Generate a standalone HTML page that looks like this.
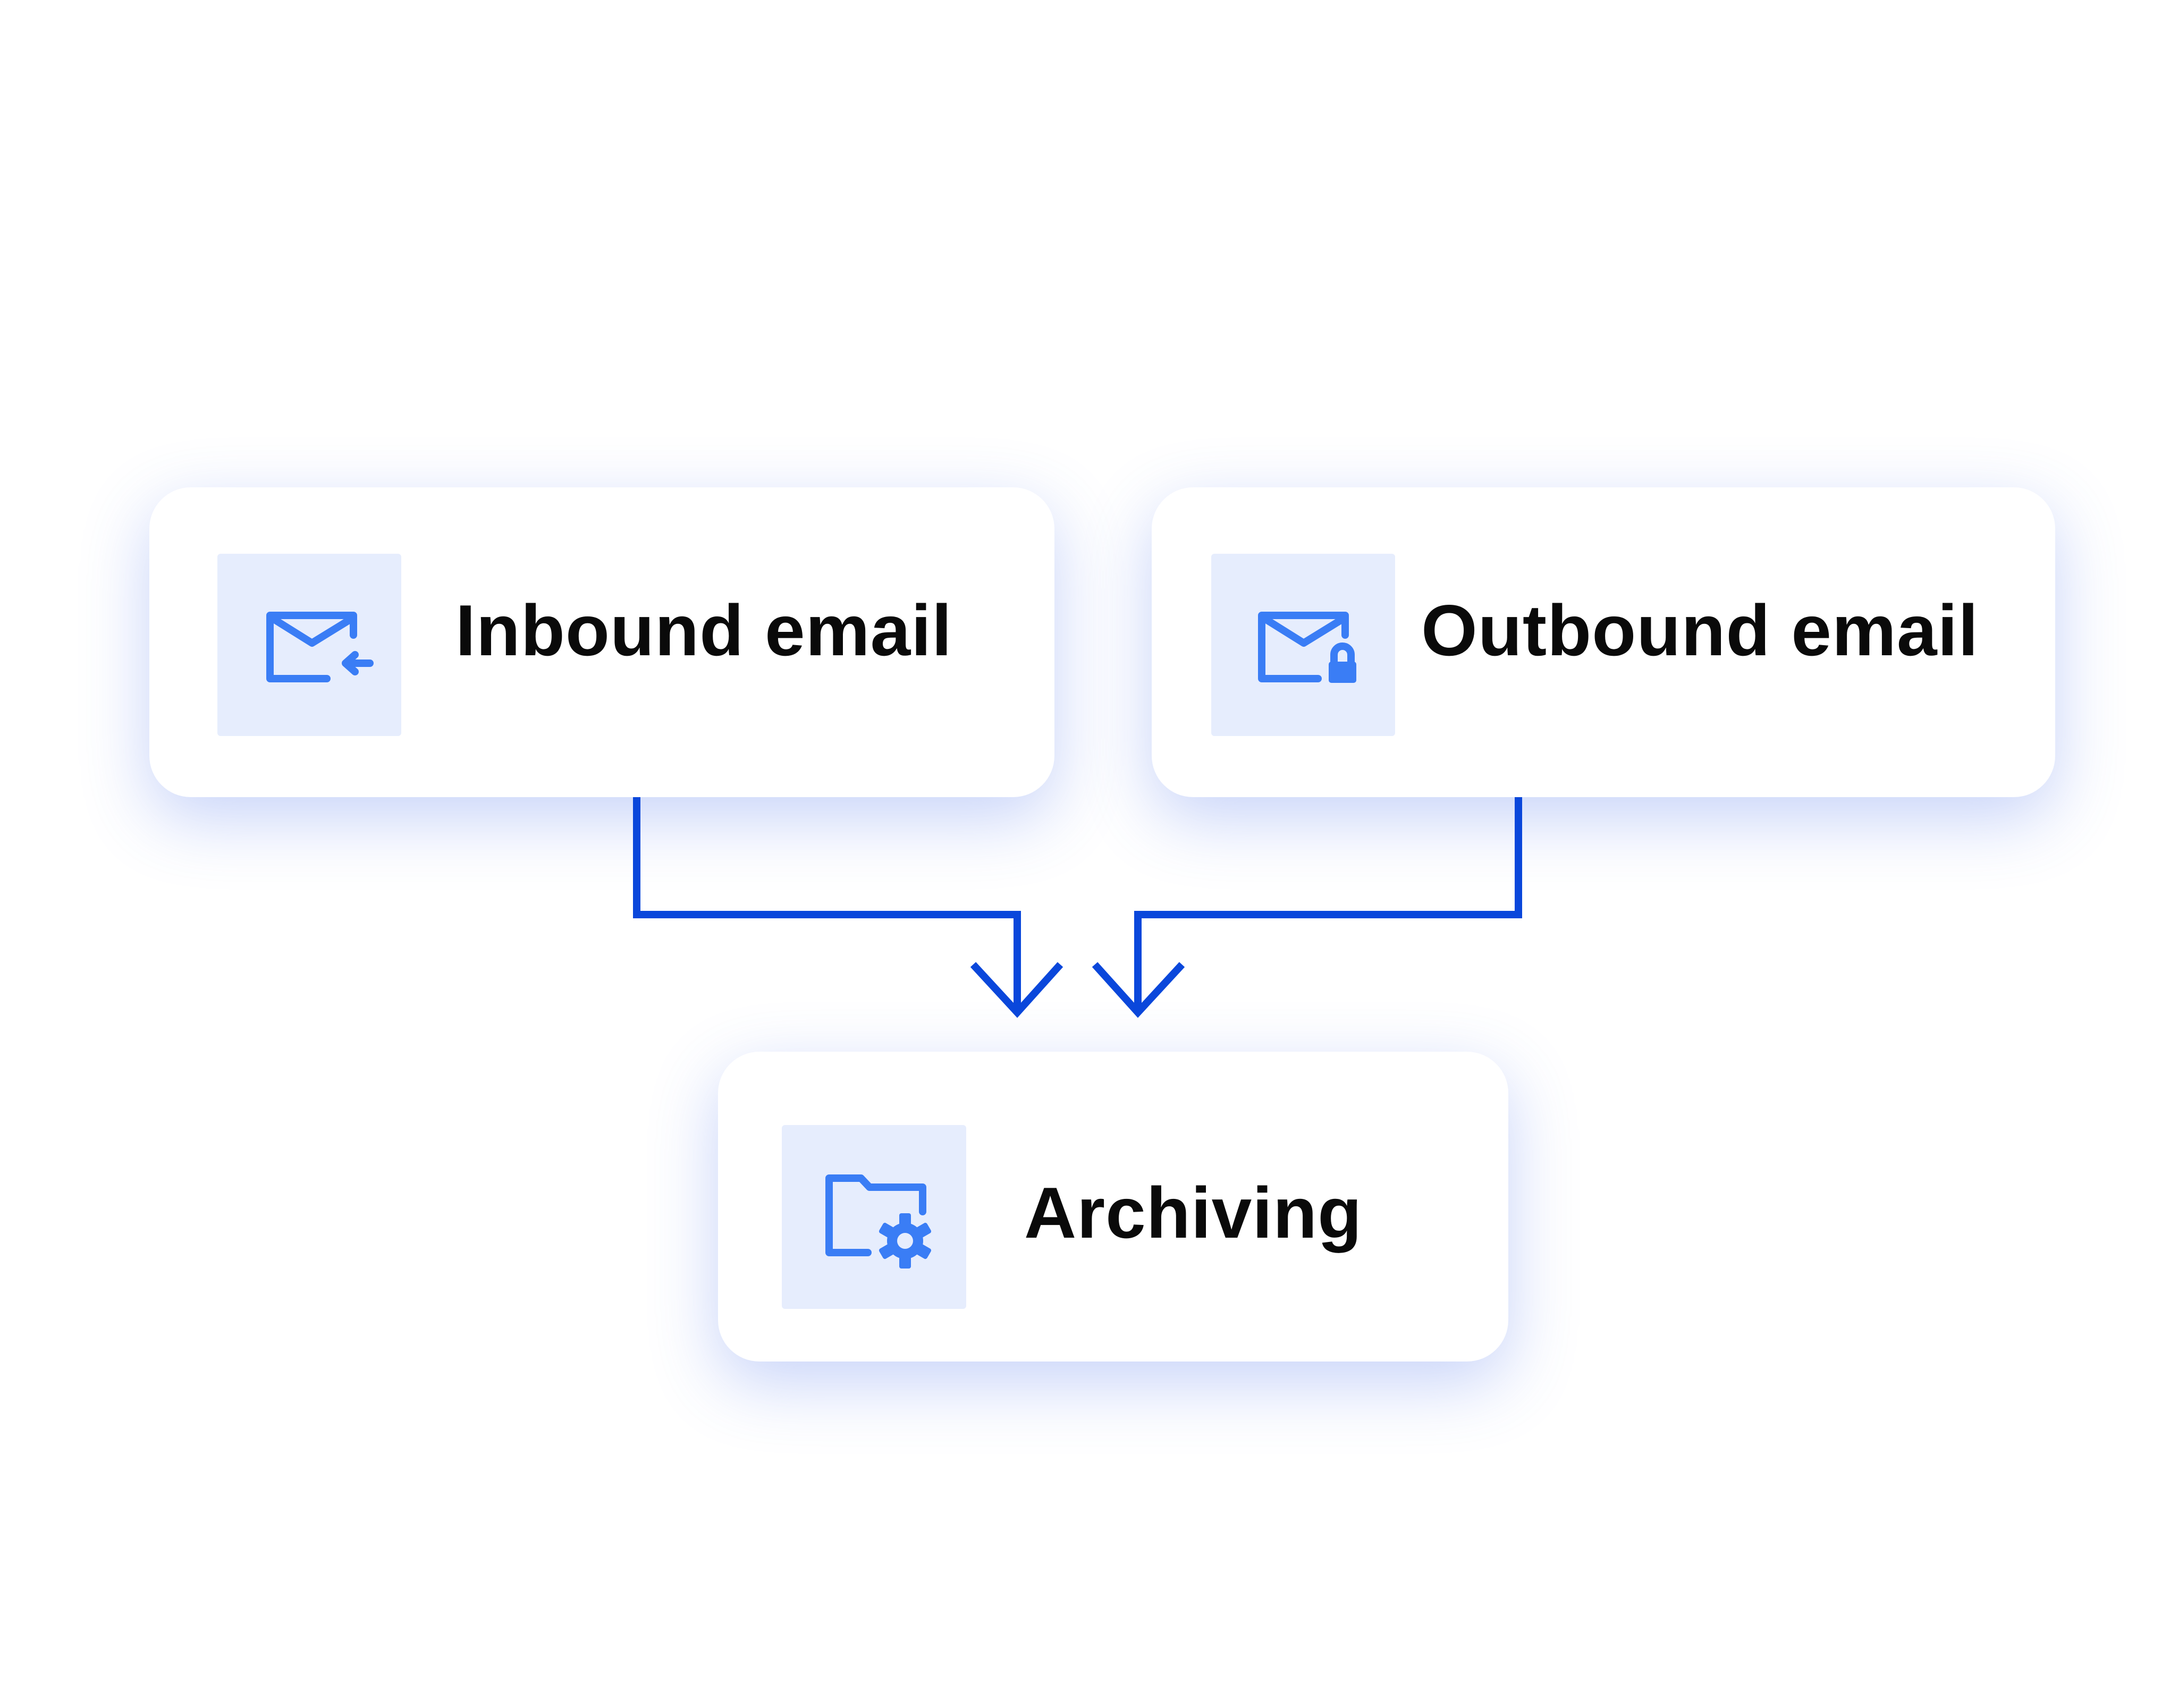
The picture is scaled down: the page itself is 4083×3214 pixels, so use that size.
<!DOCTYPE html>
<html><head><meta charset="utf-8"><style>
html,body{margin:0;padding:0;background:#fff;}
body{width:4083px;height:3214px;position:relative;overflow:hidden;font-family:"Liberation Sans",sans-serif;}
.box{position:absolute;background:#fff;border-radius:78px;box-shadow:0 40px 200px rgba(70,110,235,0.30);}
.ic{position:absolute;background:#e6edfd;border-radius:6px;}
.t{position:absolute;font-weight:bold;font-size:136px;color:#0a0a0a;letter-spacing:1px;line-height:1;white-space:nowrap;}
svg{position:absolute;left:0;top:0;}
</style></head><body>
<div class="box" style="left:281px;top:917px;width:1703px;height:583px"></div>
<div class="box" style="left:2167px;top:917px;width:1700px;height:583px"></div>
<div class="box" style="left:1351px;top:1979px;width:1487px;height:583px"></div>
<div class="ic" style="left:409px;top:1042px;width:346px;height:343px"></div>
<div class="ic" style="left:2279px;top:1042px;width:346px;height:343px"></div>
<div class="ic" style="left:1471px;top:2117px;width:347px;height:346px"></div>
<div class="t" style="left:857px;top:1118px">Inbound email</div>
<div class="t" style="left:2674px;top:1118px">Outbound email</div>
<div class="t" style="left:1927px;top:2214px">Archiving</div>
<svg width="4083" height="3214" viewBox="0 0 4083 3214">
<g fill="none" stroke="#0a47db" stroke-width="14">
<polyline points="1198,1500 1198,1721 1914,1721 1914,1905"/>
<polyline points="1831,1815 1914,1905 1995,1815"/>
<polyline points="2857,1500 2857,1721 2141,1721 2141,1905"/>
<polyline points="2060,1815 2141,1905 2224,1815"/>
</g>
<g fill="none" stroke="#3a7df5" stroke-width="14" stroke-linecap="round" stroke-linejoin="round">
<path d="M615,1277 H508 V1158 H665 V1195"/>
<path d="M515,1165 L587,1210 L660,1165"/>
<path d="M696,1248 H650 M668,1232 L650,1248 L668,1264"/>
<path d="M2385,1277 H2374 V1158 H2531 V1195"/>
<path d="M2385,1277 H2480"/>
<path d="M2381,1165 L2453,1210 L2526,1165"/>
<path d="M2510,1245 V1232 a16,16 0 0 1 32,0 V1245"/>
<path d="M1633,2357 H1560 V2217 H1620 L1636,2234 H1736 V2280"/>
</g>
<rect x="2500" y="1245" width="52" height="40" rx="5" fill="#3a7df5"/>
<g fill="#3a7df5">
<circle cx="1703" cy="2335" r="34"/>
<g transform="translate(1703,2335)">
<rect x="-11" y="-52" width="22" height="104" rx="4"/>
<rect x="-11" y="-52" width="22" height="104" rx="4" transform="rotate(60)"/>
<rect x="-11" y="-52" width="22" height="104" rx="4" transform="rotate(120)"/>
</g>
<circle cx="1703" cy="2335" r="15" fill="#e6edfd"/>
</g>
</svg>
</body></html>
